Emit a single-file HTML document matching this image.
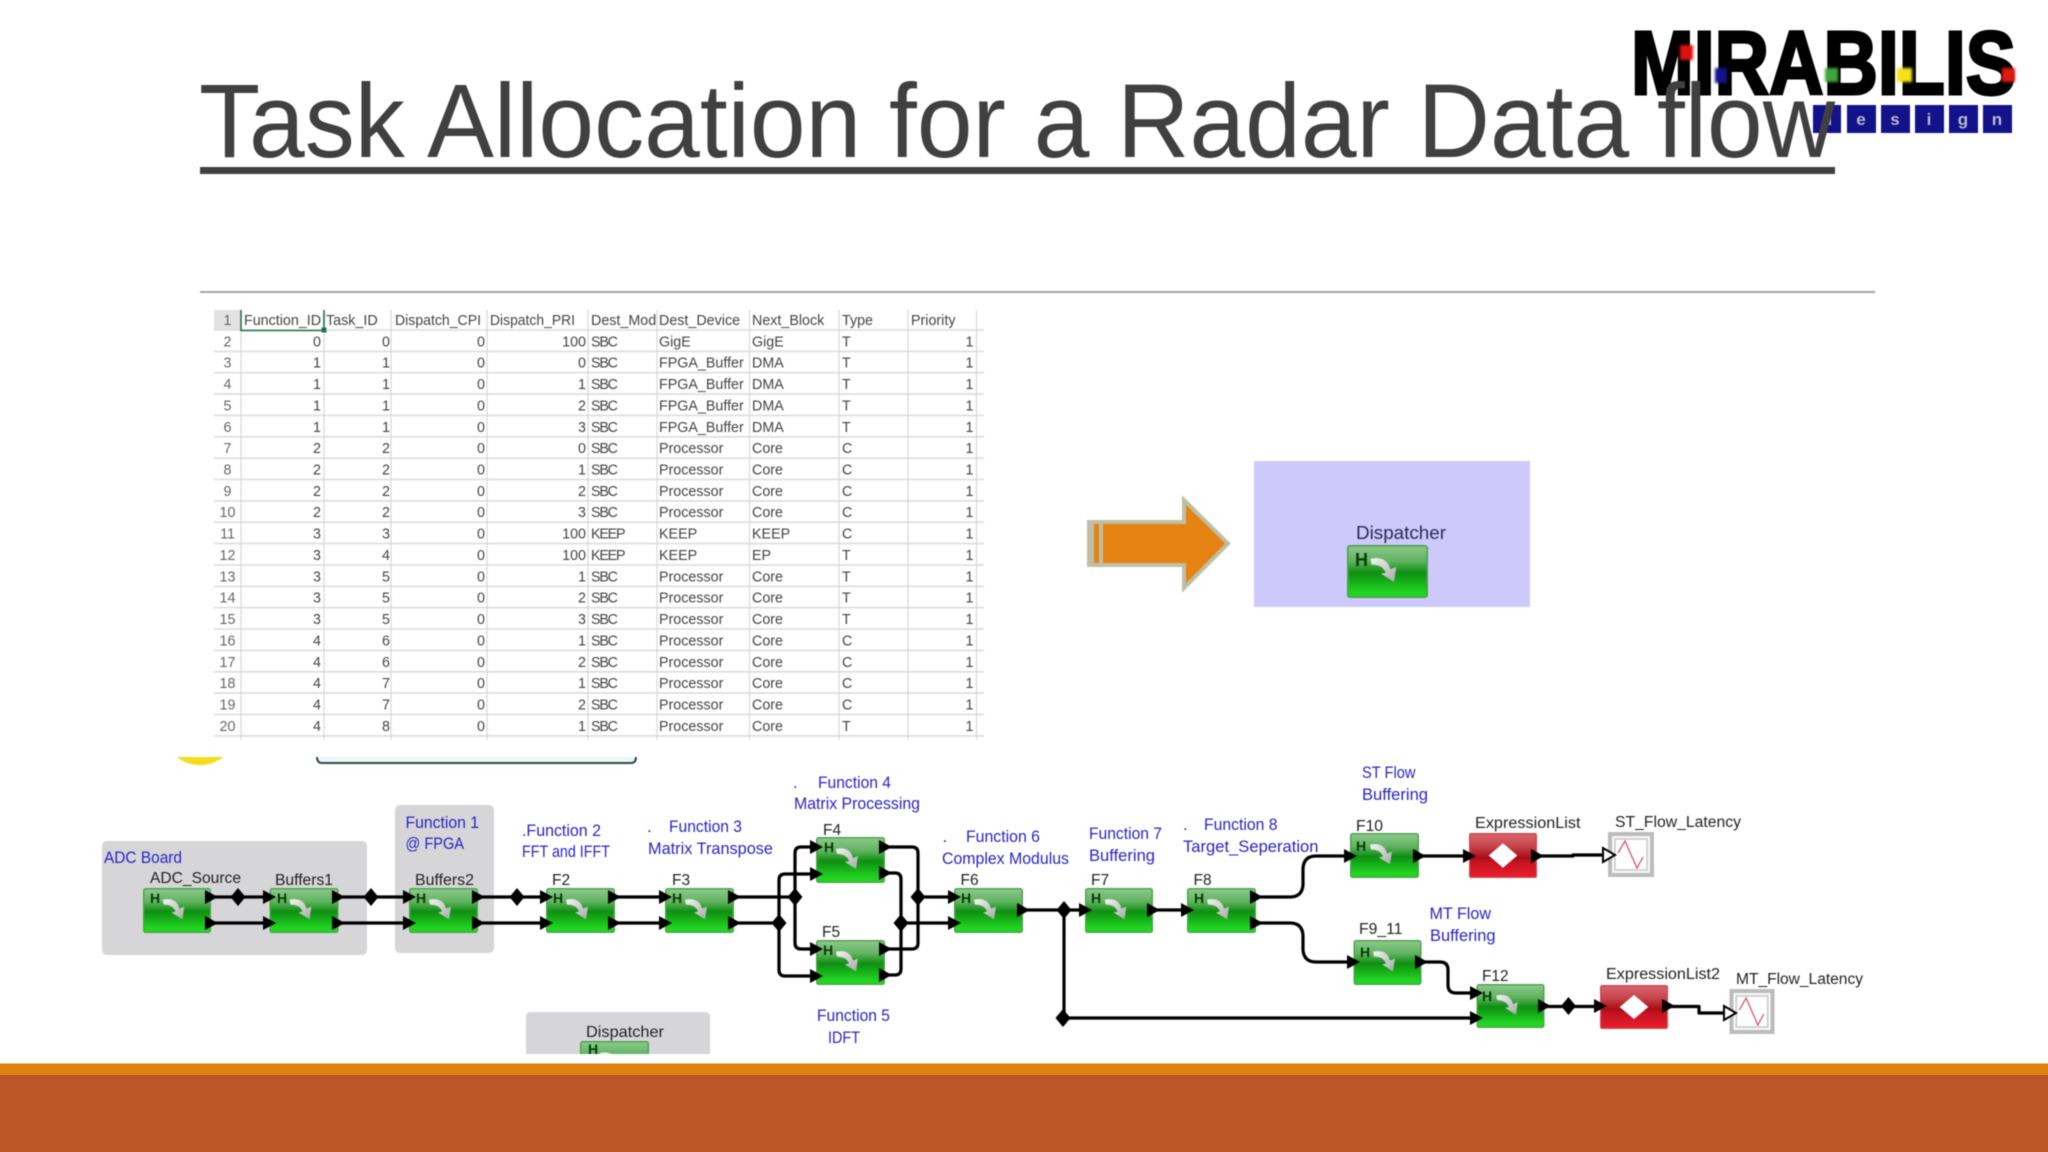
<!DOCTYPE html>
<html><head><meta charset="utf-8"><title>Task Allocation for a Radar Data flow</title>
<style>
html,body{margin:0;padding:0;background:#fff;width:2048px;height:1152px;overflow:hidden}
svg{display:block}
text{font-family:"Liberation Sans",sans-serif}
.t text{font-size:14.3px;fill:#444}
.t .e{text-anchor:end}
.t .n{text-anchor:middle;fill:#666}
.t g:not(.hd) text:nth-child(6){letter-spacing:-1.2px}
.b{font-size:17px;fill:#2b24c4}
.k{font-size:15.5px;fill:#222}
.h{font-size:14px;font-weight:bold;fill:#073a07}
</style></head><body>
<svg width="2048" height="1152" viewBox="0 0 2048 1152" xmlns="http://www.w3.org/2000/svg">
<defs>
<linearGradient id="gg" x1="0" y1="0" x2="0" y2="1">
<stop offset="0" stop-color="#8fc88f"/><stop offset=".3" stop-color="#5fb35f"/><stop offset=".52" stop-color="#0f8f12"/><stop offset=".62" stop-color="#12a015"/><stop offset=".9" stop-color="#22d422"/><stop offset="1" stop-color="#25d625"/>
</linearGradient>
<linearGradient id="rg" x1="0" y1="0" x2="0" y2="1">
<stop offset="0" stop-color="#d9686e"/><stop offset=".3" stop-color="#c6424a"/><stop offset=".55" stop-color="#a80e18"/><stop offset=".65" stop-color="#c21420"/><stop offset="1" stop-color="#ee1c2c"/>
</linearGradient>
<linearGradient id="ag" x1="0" y1="0" x2="1" y2="1">
<stop offset="0" stop-color="#f4f4f4"/><stop offset="1" stop-color="#a8a8a8"/>
</linearGradient>
<symbol id="gb" viewBox="0 0 69 46" preserveAspectRatio="none">
<rect x=".7" y=".7" width="67.6" height="44.6" rx="2" fill="url(#gg)" stroke="#4aa24a" stroke-width="1.4"/>
<path d="M20,12 C29,10 35,13 37,21 L42,19 L40,32 L29,25 L33,24 C31,19 27,17 21,17Z" fill="url(#ag)"/>
</symbol>
<symbol id="rb" viewBox="0 0 69 46" preserveAspectRatio="none">
<rect x=".7" y=".7" width="67.6" height="44.6" rx="1.5" fill="url(#rg)" stroke="#c9474f" stroke-width="1.4"/>
<path d="M34.5,10.5 L49,23 L34.5,35.5 L20,23Z" fill="#fff"/>
</symbol>
<symbol id="sc" viewBox="0 0 46 45" preserveAspectRatio="none">
<rect x="2" y="2" width="42" height="41" fill="#f7f7f7" stroke="#bcbcbc" stroke-width="4"/>
<rect x="7" y="7" width="32" height="31" fill="#fff" stroke="#c8c8c8" stroke-width="1.5"/>
<path d="M10,21 L17,9 L29,36 L35,25" fill="none" stroke="#d8566a" stroke-width="1.3"/>
</symbol>
<path id="a" d="M-6,-7 L7,0 L-6,7Z" fill="#000"/>
<path id="d" d="M0,-9 L7.5,0 L0,9 L-7.5,0Z" fill="#000"/>
<clipPath id="mc"><rect x="588" y="308" width="68" height="24"/></clipPath>
</defs>

<rect width="2048" height="1152" fill="#fff"/>

<g style="filter:blur(.4px)">
<!-- logo -->
<g>
<text x="1631" y="94" font-size="90" font-weight="bold" fill="#000" stroke="#000" stroke-width="3" textLength="385" lengthAdjust="spacingAndGlyphs">MIRABILIS</text>
<g style="filter:blur(1.2px)">
<rect x="1680" y="45" width="13" height="15" fill="#e01010"/>
<rect x="1715" y="68" width="12" height="15" fill="#12128c"/>
<rect x="1825" y="68" width="13" height="14" fill="#3fa53a"/>
<rect x="1897" y="68" width="15" height="14" fill="#f2e21a"/>
<rect x="2002" y="68" width="13" height="14" fill="#e01a10"/>
</g>
<g fill="#12128a">
<rect x="1813" y="105" width="28" height="28"/><rect x="1847" y="105" width="29" height="28"/><rect x="1881" y="105" width="29" height="28"/><rect x="1915" y="105" width="29" height="28"/><rect x="1949" y="105" width="29" height="28"/><rect x="1983" y="105" width="29" height="28"/>
</g>
<g font-size="17" font-weight="bold" fill="#b9b9d0" text-anchor="middle">
<text x="1827" y="125">d</text><text x="1861" y="125">e</text><text x="1895" y="125">s</text><text x="1929" y="125">i</text><text x="1963" y="125">g</text><text x="1997" y="125">n</text>
</g>
</g>

<!-- title -->
<text x="199" y="157" font-size="105" fill="#404040" textLength="1636" lengthAdjust="spacingAndGlyphs">Task Allocation for a Radar Data flow</text>
<rect x="200" y="167" width="1635" height="7" fill="#404040"/>
<rect x="200" y="291" width="1675" height="2" fill="#a6a6a6"/>

<!-- spreadsheet -->
<g>
<rect x="214" y="310" width="27" height="20" fill="#e2e2e2"/>
<path fill="none" stroke="#dcdce0" stroke-width="1.6" d="M214,330H984M214,351.4H984M214,372.7H984M214,394.1H984M214,415.4H984M214,436.8H984M214,458.2H984M214,479.5H984M214,500.9H984M214,522.2H984M214,543.6H984M214,565H984M214,586.3H984M214,607.7H984M214,629H984M214,650.4H984M214,671.8H984M214,693.1H984M214,714.5H984M214,735.9H984"/>
<path fill="none" stroke="#d8d8dc" stroke-width="1.2" d="M241,310V740M324,310V740M391,310V740M487,310V740M588,310V740M657,310V740M749.5,310V740M839,310V740M908,310V740M976.5,310V740"/>
<path fill="none" stroke="#217346" stroke-width="1.6" d="M241,310V330.5H324V310"/>
<rect x="321.5" y="327.5" width="5" height="5" fill="#217346"/>
<g class="t">
<g class="hd"><text class="n" x="227.5" y="325">1</text><text x="244" y="325">Function_ID</text><text x="326" y="325">Task_ID</text><text x="395" y="325" textLength="86" lengthAdjust="spacingAndGlyphs">Dispatch_CPI</text><text x="490" y="325" textLength="85" lengthAdjust="spacingAndGlyphs">Dispatch_PRI</text><text x="591" y="325" clip-path="url(#mc)">Dest_Mode</text><text x="659" y="325">Dest_Device</text><text x="752" y="325">Next_Block</text><text x="842" y="325">Type</text><text x="911" y="325">Priority</text></g>
<g transform="translate(0,346.4)"><text class="n" x="227.5">2</text><text class="e" x="321">0</text><text class="e" x="390">0</text><text class="e" x="485">0</text><text class="e" x="586">100</text><text x="591">SBC</text><text x="659">GigE</text><text x="752">GigE</text><text x="842">T</text><text class="e" x="973.5">1</text></g>
<g transform="translate(0,367.7)"><text class="n" x="227.5">3</text><text class="e" x="321">1</text><text class="e" x="390">1</text><text class="e" x="485">0</text><text class="e" x="586">0</text><text x="591">SBC</text><text x="659">FPGA_Buffer</text><text x="752">DMA</text><text x="842">T</text><text class="e" x="973.5">1</text></g>
<g transform="translate(0,389.1)"><text class="n" x="227.5">4</text><text class="e" x="321">1</text><text class="e" x="390">1</text><text class="e" x="485">0</text><text class="e" x="586">1</text><text x="591">SBC</text><text x="659">FPGA_Buffer</text><text x="752">DMA</text><text x="842">T</text><text class="e" x="973.5">1</text></g>
<g transform="translate(0,410.4)"><text class="n" x="227.5">5</text><text class="e" x="321">1</text><text class="e" x="390">1</text><text class="e" x="485">0</text><text class="e" x="586">2</text><text x="591">SBC</text><text x="659">FPGA_Buffer</text><text x="752">DMA</text><text x="842">T</text><text class="e" x="973.5">1</text></g>
<g transform="translate(0,431.8)"><text class="n" x="227.5">6</text><text class="e" x="321">1</text><text class="e" x="390">1</text><text class="e" x="485">0</text><text class="e" x="586">3</text><text x="591">SBC</text><text x="659">FPGA_Buffer</text><text x="752">DMA</text><text x="842">T</text><text class="e" x="973.5">1</text></g>
<g transform="translate(0,453.2)"><text class="n" x="227.5">7</text><text class="e" x="321">2</text><text class="e" x="390">2</text><text class="e" x="485">0</text><text class="e" x="586">0</text><text x="591">SBC</text><text x="659">Processor</text><text x="752">Core</text><text x="842">C</text><text class="e" x="973.5">1</text></g>
<g transform="translate(0,474.5)"><text class="n" x="227.5">8</text><text class="e" x="321">2</text><text class="e" x="390">2</text><text class="e" x="485">0</text><text class="e" x="586">1</text><text x="591">SBC</text><text x="659">Processor</text><text x="752">Core</text><text x="842">C</text><text class="e" x="973.5">1</text></g>
<g transform="translate(0,495.9)"><text class="n" x="227.5">9</text><text class="e" x="321">2</text><text class="e" x="390">2</text><text class="e" x="485">0</text><text class="e" x="586">2</text><text x="591">SBC</text><text x="659">Processor</text><text x="752">Core</text><text x="842">C</text><text class="e" x="973.5">1</text></g>
<g transform="translate(0,517.2)"><text class="n" x="227.5">10</text><text class="e" x="321">2</text><text class="e" x="390">2</text><text class="e" x="485">0</text><text class="e" x="586">3</text><text x="591">SBC</text><text x="659">Processor</text><text x="752">Core</text><text x="842">C</text><text class="e" x="973.5">1</text></g>
<g transform="translate(0,538.6)"><text class="n" x="227.5">11</text><text class="e" x="321">3</text><text class="e" x="390">3</text><text class="e" x="485">0</text><text class="e" x="586">100</text><text x="591">KEEP</text><text x="659">KEEP</text><text x="752">KEEP</text><text x="842">C</text><text class="e" x="973.5">1</text></g>
<g transform="translate(0,560)"><text class="n" x="227.5">12</text><text class="e" x="321">3</text><text class="e" x="390">4</text><text class="e" x="485">0</text><text class="e" x="586">100</text><text x="591">KEEP</text><text x="659">KEEP</text><text x="752">EP</text><text x="842">T</text><text class="e" x="973.5">1</text></g>
<g transform="translate(0,581.3)"><text class="n" x="227.5">13</text><text class="e" x="321">3</text><text class="e" x="390">5</text><text class="e" x="485">0</text><text class="e" x="586">1</text><text x="591">SBC</text><text x="659">Processor</text><text x="752">Core</text><text x="842">T</text><text class="e" x="973.5">1</text></g>
<g transform="translate(0,602.7)"><text class="n" x="227.5">14</text><text class="e" x="321">3</text><text class="e" x="390">5</text><text class="e" x="485">0</text><text class="e" x="586">2</text><text x="591">SBC</text><text x="659">Processor</text><text x="752">Core</text><text x="842">T</text><text class="e" x="973.5">1</text></g>
<g transform="translate(0,624)"><text class="n" x="227.5">15</text><text class="e" x="321">3</text><text class="e" x="390">5</text><text class="e" x="485">0</text><text class="e" x="586">3</text><text x="591">SBC</text><text x="659">Processor</text><text x="752">Core</text><text x="842">T</text><text class="e" x="973.5">1</text></g>
<g transform="translate(0,645.4)"><text class="n" x="227.5">16</text><text class="e" x="321">4</text><text class="e" x="390">6</text><text class="e" x="485">0</text><text class="e" x="586">1</text><text x="591">SBC</text><text x="659">Processor</text><text x="752">Core</text><text x="842">C</text><text class="e" x="973.5">1</text></g>
<g transform="translate(0,666.8)"><text class="n" x="227.5">17</text><text class="e" x="321">4</text><text class="e" x="390">6</text><text class="e" x="485">0</text><text class="e" x="586">2</text><text x="591">SBC</text><text x="659">Processor</text><text x="752">Core</text><text x="842">C</text><text class="e" x="973.5">1</text></g>
<g transform="translate(0,688.1)"><text class="n" x="227.5">18</text><text class="e" x="321">4</text><text class="e" x="390">7</text><text class="e" x="485">0</text><text class="e" x="586">1</text><text x="591">SBC</text><text x="659">Processor</text><text x="752">Core</text><text x="842">C</text><text class="e" x="973.5">1</text></g>
<g transform="translate(0,709.5)"><text class="n" x="227.5">19</text><text class="e" x="321">4</text><text class="e" x="390">7</text><text class="e" x="485">0</text><text class="e" x="586">2</text><text x="591">SBC</text><text x="659">Processor</text><text x="752">Core</text><text x="842">C</text><text class="e" x="973.5">1</text></g>
<g transform="translate(0,730.8)"><text class="n" x="227.5">20</text><text class="e" x="321">4</text><text class="e" x="390">8</text><text class="e" x="485">0</text><text class="e" x="586">1</text><text x="591">SBC</text><text x="659">Processor</text><text x="752">Core</text><text x="842">T</text><text class="e" x="973.5">1</text></g>
</g>
<path d="M177,757H224Q210,766 198,765Q185,764 177,757Z" fill="#f4dc1c"/>
<path d="M317,757Q317,763 322,763H631Q636,763 636,757Z" fill="#eaf8f6"/>
<path d="M317,757Q317,763 322,763H631Q636,763 636,757" fill="none" stroke="#2f4a4a" stroke-width="2"/>
</g>

<!-- big arrow and dispatcher panel -->
<path d="M1089,522H1184V500L1228,543.5L1184,588V565H1089Z" fill="#e48312" stroke="#bfbfa5" stroke-width="4"/>
<rect x="1087" y="520" width="7" height="47" fill="#bfbfa5"/>
<rect x="1099" y="520" width="4" height="47" fill="#bfbfa5"/>
<rect x="1254" y="461" width="276" height="146" fill="#cdc9fb"/>
<text x="1356" y="539" font-size="18.5" fill="#2a2a5a" textLength="90" lengthAdjust="spacingAndGlyphs">Dispatcher</text>
<use href="#gb" x="1347" y="545" width="81" height="53"/>
<text class="h" x="1355" y="566" style="font-size:18px">H</text>

<!-- group boxes -->
<rect x="102" y="841" width="265" height="114" rx="5" fill="#d6d6d8"/>
<rect x="395" y="805" width="99" height="148" rx="5" fill="#d6d6d8"/>
<path d="M526,1054V1017Q526,1012 531,1012H705Q710,1012 710,1017V1054Z" fill="#d6d6d8"/>
<svg x="580" y="1041" width="69" height="13" viewBox="0 0 69 13"><use href="#gb" x="0" y="0" width="69" height="46"/><text class="h" x="8" y="13">H</text></svg>
<text x="586" y="1037" font-size="16" fill="#222" textLength="78" lengthAdjust="spacingAndGlyphs">Dispatcher</text>

<!-- connectors -->
<g fill="none" stroke="#000" stroke-width="3.2" stroke-linejoin="round">
<path d="M211,897H269M211,923H269M338,897H409M338,923H409M478,897H546M478,923H546M614,897H665M614,923H665M734,897H795M734,923H779"/>
<path d="M795,897V853Q795,847 801,847H816M795,897V943Q795,949 801,949H815M779,923V880Q779,874 785,874H816M779,923V970Q779,976 785,976H815"/>
<path d="M885,847H912Q918,847 918,853V897M885,949H912Q918,949 918,943V897M885,873H895Q901,873 901,879V923M885,975H895Q901,975 901,969V923"/>
<path d="M918,897H954M901,923H954M1023,910H1085M1153,910H1187M1064,910V1018M1063,1018H1476"/>
<path d="M1256,897H1290Q1302,897 1303,885V868Q1304,856 1316,856H1350M1256,923H1290Q1302,923 1303,935V950Q1304,962 1316,962H1353"/>
<path d="M1419,856H1469M1537,856H1573V855H1604M1421,962H1440Q1448,962 1448,970V985Q1448,993 1456,993H1476M1544,1006.5H1600M1668,1006.5H1699V1013H1725"/>
</g>

<!-- blocks -->
<use href="#gb" x="143" y="888" width="68" height="45"/><text class="h" x="150" y="903">H</text>
<use href="#gb" x="269.500" y="888" width="69" height="45"/><text class="h" x="277" y="903">H</text>
<use href="#gb" x="409" y="888" width="69" height="45"/><text class="h" x="416" y="903">H</text>
<use href="#gb" x="546" y="888" width="69" height="45"/><text class="h" x="553" y="903">H</text>
<use href="#gb" x="665" y="888" width="69" height="45"/><text class="h" x="672" y="903">H</text>
<use href="#gb" x="816" y="837" width="69" height="46"/><text class="h" x="824" y="852">H</text>
<use href="#gb" x="816" y="940" width="69" height="45"/><text class="h" x="823" y="955">H</text>
<use href="#gb" x="954" y="888" width="69" height="45"/><text class="h" x="961" y="903">H</text>
<use href="#gb" x="1085" y="888" width="68" height="45"/><text class="h" x="1091" y="903">H</text>
<use href="#gb" x="1187" y="888" width="69" height="45"/><text class="h" x="1194" y="903">H</text>
<use href="#gb" x="1350" y="833" width="69" height="45"/><text class="h" x="1356" y="851">H</text>
<use href="#gb" x="1353.500" y="940" width="68" height="45"/><text class="h" x="1360" y="957">H</text>
<use href="#gb" x="1476.500" y="984" width="68" height="44"/><text class="h" x="1482" y="1001">H</text>
<use href="#rb" x="1469" y="833" width="68" height="45"/>
<use href="#rb" x="1600" y="985" width="68" height="44"/>
<use href="#sc" x="1608" y="832" width="46" height="45"/>
<use href="#sc" x="1729.500" y="989" width="45" height="45"/>

<!-- arrowheads -->
<g>
<use href="#a" x="211" y="897"/><use href="#a" x="211" y="923"/><use href="#a" x="269" y="897"/><use href="#a" x="269" y="923"/>
<use href="#a" x="338" y="897"/><use href="#a" x="338" y="923"/><use href="#a" x="409" y="897"/><use href="#a" x="409" y="923"/>
<use href="#a" x="478" y="897"/><use href="#a" x="478" y="923"/><use href="#a" x="546" y="897"/><use href="#a" x="546" y="923"/>
<use href="#a" x="614" y="897"/><use href="#a" x="614" y="923"/><use href="#a" x="665" y="897"/><use href="#a" x="665" y="923"/>
<use href="#a" x="734" y="897"/><use href="#a" x="734" y="923"/>
<use href="#a" x="816" y="847"/><use href="#a" x="816" y="874"/><use href="#a" x="816" y="949"/><use href="#a" x="816" y="976"/>
<use href="#a" x="885" y="847"/><use href="#a" x="885" y="873"/><use href="#a" x="885" y="949"/><use href="#a" x="885" y="975"/>
<use href="#a" x="954" y="897"/><use href="#a" x="954" y="923"/><use href="#a" x="1023" y="910"/>
<use href="#a" x="1085" y="910"/><use href="#a" x="1153" y="910"/><use href="#a" x="1187" y="910"/>
<use href="#a" x="1256" y="897"/><use href="#a" x="1256" y="923"/>
<use href="#a" x="1350" y="856"/><use href="#a" x="1419" y="856"/><use href="#a" x="1469" y="856"/><use href="#a" x="1537" y="856"/>
<use href="#a" x="1353" y="962"/><use href="#a" x="1421" y="962"/>
<use href="#a" x="1476" y="993"/><use href="#a" x="1476" y="1018"/><use href="#a" x="1544" y="1006"/>
<use href="#a" x="1600" y="1006"/><use href="#a" x="1668" y="1006"/>
<use href="#d" x="238" y="897"/><use href="#d" x="371" y="897"/><use href="#d" x="517" y="897"/>
<use href="#d" x="795" y="897"/><use href="#d" x="779" y="923"/><use href="#d" x="918" y="897"/><use href="#d" x="901" y="923"/>
<use href="#d" x="1064" y="910"/><use href="#d" x="1063" y="1018"/><use href="#d" x="1568.500" y="1006"/>
<path d="M1603,848L1615,855L1603,862Z" fill="#fff" stroke="#000" stroke-width="2"/>
<path d="M1724,1006L1736,1013L1724,1020Z" fill="#fff" stroke="#000" stroke-width="2"/>
</g>

<!-- black labels -->
<g class="lab">
<text class="k" x="150" y="883" textLength="91" lengthAdjust="spacingAndGlyphs">ADC_Source</text>
<text class="k" x="275" y="885" textLength="58" lengthAdjust="spacingAndGlyphs">Buffers1</text>
<text class="k" x="415" y="885" textLength="59" lengthAdjust="spacingAndGlyphs">Buffers2</text>
<text class="k" x="552" y="885">F2</text>
<text class="k" x="672" y="885">F3</text>
<text class="k" x="823" y="835">F4</text>
<text class="k" x="822" y="937">F5</text>
<text class="k" x="960.500" y="885">F6</text>
<text class="k" x="1091" y="885">F7</text>
<text class="k" x="1193.500" y="885">F8</text>
<text class="k" x="1356" y="831" textLength="27" lengthAdjust="spacingAndGlyphs">F10</text>
<text class="k" x="1475" y="828" textLength="105.500" lengthAdjust="spacingAndGlyphs">ExpressionList</text>
<text class="k" x="1615" y="827" textLength="126" lengthAdjust="spacingAndGlyphs">ST_Flow_Latency</text>
<text class="k" x="1359" y="934" textLength="43.500" lengthAdjust="spacingAndGlyphs">F9_11</text>
<text class="k" x="1482" y="981" textLength="26.500" lengthAdjust="spacingAndGlyphs">F12</text>
<text class="k" x="1606" y="979" textLength="114" lengthAdjust="spacingAndGlyphs">ExpressionList2</text>
<text class="k" x="1736" y="984" textLength="127" lengthAdjust="spacingAndGlyphs">MT_Flow_Latency</text>
</g>

<!-- blue labels -->
<g>
<text class="b" x="104" y="863" textLength="78" lengthAdjust="spacingAndGlyphs">ADC Board</text>
<text class="b" x="405.500" y="828" textLength="73.500" lengthAdjust="spacingAndGlyphs">Function 1</text>
<text class="b" x="405.500" y="849" textLength="58.500" lengthAdjust="spacingAndGlyphs">@ FPGA</text>
<text class="b" x="522" y="836" textLength="79" lengthAdjust="spacingAndGlyphs">.Function 2</text>
<text class="b" x="522" y="857" textLength="88" lengthAdjust="spacingAndGlyphs">FFT and IFFT</text>
<text class="b" x="647" y="832">.</text>
<text class="b" x="669" y="832" textLength="73" lengthAdjust="spacingAndGlyphs">Function 3</text>
<text class="b" x="648" y="854" textLength="125" lengthAdjust="spacingAndGlyphs">Matrix Transpose</text>
<text class="b" x="793" y="788">.</text>
<text class="b" x="818" y="788" textLength="73" lengthAdjust="spacingAndGlyphs">Function 4</text>
<text class="b" x="794" y="809" textLength="126" lengthAdjust="spacingAndGlyphs">Matrix Processing</text>
<text class="b" x="817" y="1021" textLength="73" lengthAdjust="spacingAndGlyphs">Function 5</text>
<text class="b" x="828" y="1043" textLength="32" lengthAdjust="spacingAndGlyphs">IDFT</text>
<text class="b" x="942.500" y="842">.</text>
<text class="b" x="966" y="842" textLength="74" lengthAdjust="spacingAndGlyphs">Function 6</text>
<text class="b" x="942" y="864" textLength="127" lengthAdjust="spacingAndGlyphs">Complex Modulus</text>
<text class="b" x="1089" y="839" textLength="73" lengthAdjust="spacingAndGlyphs">Function 7</text>
<text class="b" x="1089" y="861" textLength="66" lengthAdjust="spacingAndGlyphs">Buffering</text>
<text class="b" x="1183" y="830">.</text>
<text class="b" x="1204" y="830" textLength="73.500" lengthAdjust="spacingAndGlyphs">Function 8</text>
<text class="b" x="1183" y="852" textLength="135.500" lengthAdjust="spacingAndGlyphs">Target_Seperation</text>
<text class="b" x="1362" y="778" textLength="53.500" lengthAdjust="spacingAndGlyphs">ST Flow</text>
<text class="b" x="1362" y="800" textLength="66" lengthAdjust="spacingAndGlyphs">Buffering</text>
<text class="b" x="1429.500" y="919" textLength="61.500" lengthAdjust="spacingAndGlyphs">MT Flow</text>
<text class="b" x="1430" y="941" textLength="65.500" lengthAdjust="spacingAndGlyphs">Buffering</text>
</g>
</g>

<!-- footer -->
<rect x="0" y="1063.500" width="2048" height="11.500" fill="#e0820f"/>
<rect x="0" y="1075" width="2048" height="77" fill="#bc5528"/>
</svg>
</body></html>
